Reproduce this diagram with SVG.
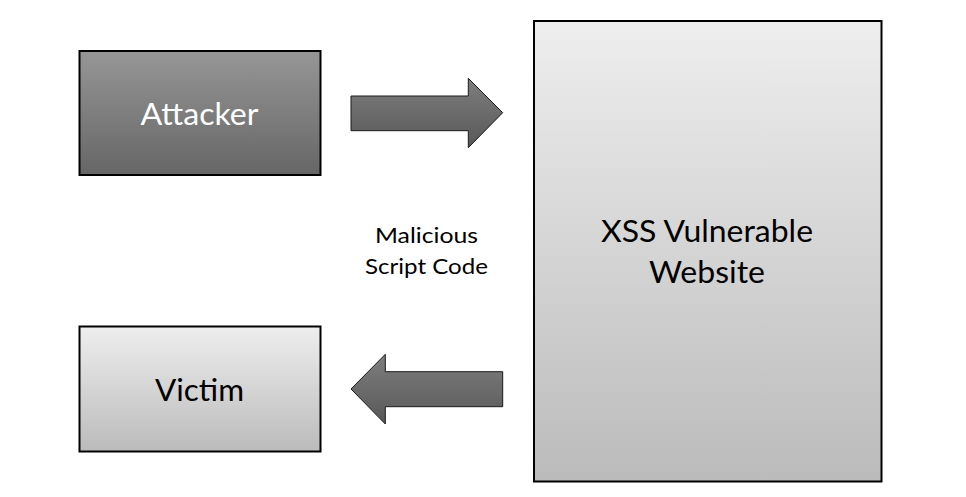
<svg xmlns="http://www.w3.org/2000/svg" width="966" height="497" viewBox="0 0 966 497">
<defs>
<linearGradient id="gDark" x1="0" y1="0" x2="0" y2="1">
<stop offset="0" stop-color="#969696"/>
<stop offset="1" stop-color="#666666"/>
</linearGradient>
<linearGradient id="gLight" x1="0" y1="0" x2="0" y2="1">
<stop offset="0" stop-color="#eeeeee"/>
<stop offset="1" stop-color="#bbbbbb"/>
</linearGradient>
<linearGradient id="gArrow" x1="0" y1="0" x2="0" y2="1">
<stop offset="0" stop-color="#7e7e7e"/>
<stop offset="1" stop-color="#585858"/>
</linearGradient>
</defs>
<style>
.box{stroke:#000;stroke-width:2}
.arrow{fill:url(#gArrow);stroke:#1a1a1a;stroke-width:1}
text{font-family:Lato,"Open Sans","Liberation Sans",sans-serif;text-anchor:middle}
.big{font-size:31px}
.small{font-size:21px;fill:#000}
</style>
<rect width="966" height="497" fill="#ffffff"/>
<g id="attacker">
<rect class="box" x="79.5" y="51" width="241" height="124" fill="url(#gDark)"/>
<text class="big" x="199.5" y="125" fill="#ffffff" textLength="118" lengthAdjust="spacingAndGlyphs">Attacker</text>
</g>
<g id="victim">
<rect class="box" x="79.5" y="326.5" width="241" height="125" fill="url(#gLight)"/>
<text class="big" x="199.5" y="401" fill="#000000" textLength="89" lengthAdjust="spacingAndGlyphs">Victim</text>
</g>
<g id="website">
<rect class="box" x="534" y="21" width="347.5" height="460.5" fill="url(#gLight)"/>
<text class="big" x="707" y="241.5" fill="#000000" textLength="212" lengthAdjust="spacingAndGlyphs">XSS Vulnerable</text>
<text class="big" x="707" y="283" fill="#000000" textLength="116" lengthAdjust="spacingAndGlyphs">Website</text>
</g>
<g id="connectors">
<path class="arrow" d="M351 96 L468.3 96 L468.3 78.3 L502.7 112.7 L468.3 147.7 L468.3 130.7 L351 130.7 Z"/>
<path class="arrow" d="M502.7 371.7 L385.3 371.7 L385.3 354.3 L351 389 L385.3 424 L385.3 406.7 L502.7 406.7 Z"/>
<text class="small" x="426.5" y="243" textLength="103" lengthAdjust="spacingAndGlyphs">Malicious</text>
<text class="small" x="426.5" y="274" textLength="123" lengthAdjust="spacingAndGlyphs">Script Code</text>
</g>
</svg>
